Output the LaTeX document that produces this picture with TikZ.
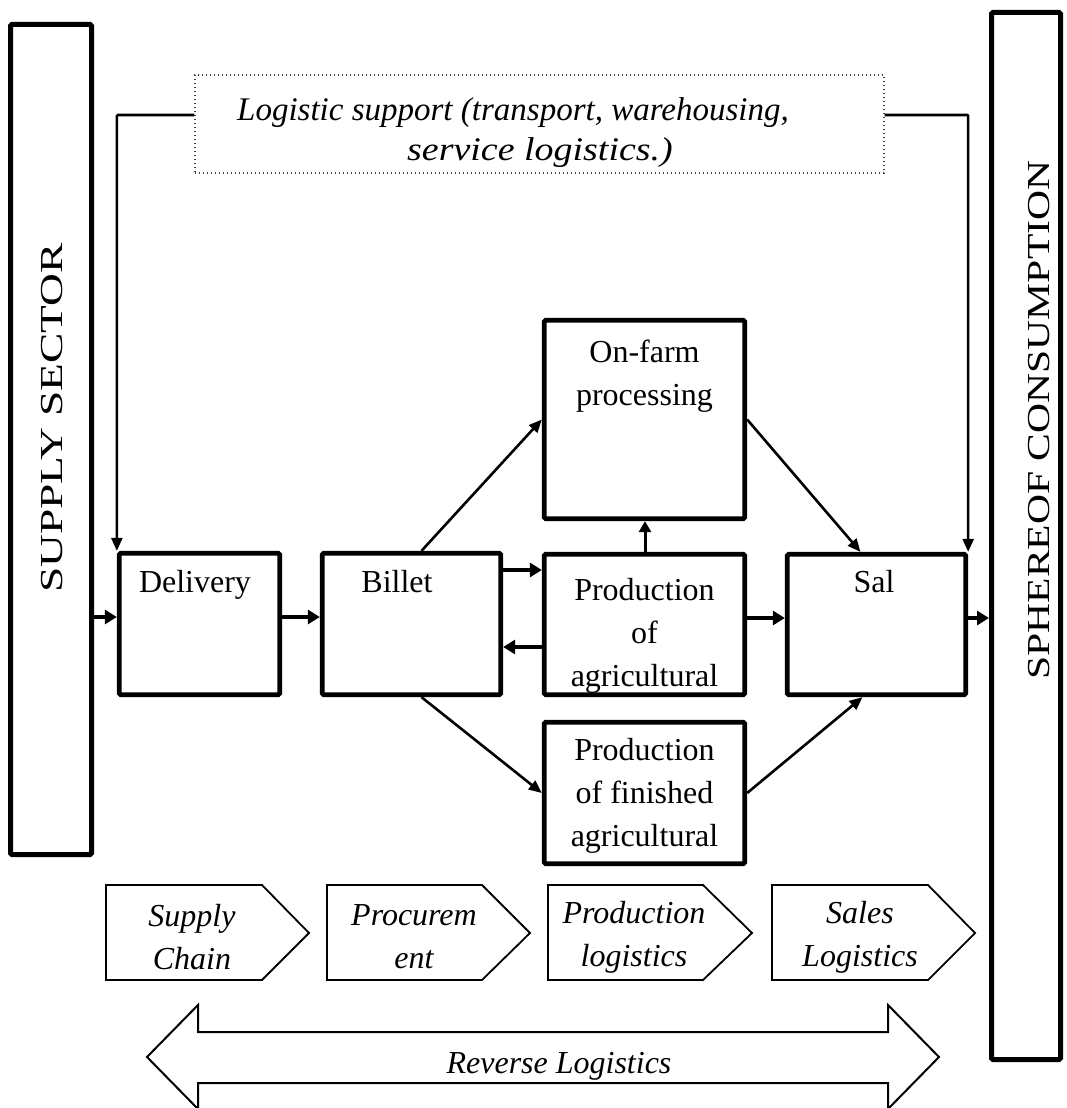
\documentclass[tikz,border=0pt]{standalone}
\usepackage{fontspec}
\setmainfont{Liberation Serif}
\usetikzlibrary{arrows.meta,calc}
\begin{document}
\begin{tikzpicture}[x=1pt,y=-1pt,
  box/.style={draw, line width=4.8pt, rounded corners=1.5pt, inner sep=0pt},
  bar/.style={draw, line width=5pt, rounded corners=1.5pt, inner sep=0pt},
  lbl/.style={font=\fontsize{32}{43}\selectfont, align=center, inner sep=0pt, anchor=north},
  ilbl/.style={font=\fontsize{32}{43}\selectfont\itshape, align=center, inner sep=0pt},
  conn/.style={line width=2.6pt, -{Triangle[length=13pt,width=11pt]}},
  fatarrow/.style={line width=4pt, -{Triangle[length=12pt,width=14pt]}},
  chev/.style={draw, line width=1.8pt, line join=miter},
  vtext/.style={rotate=90, inner sep=0pt, font=\fontsize{32}{43}\selectfont},
]
\useasboundingbox (0,0) rectangle (1066,1108);

% side bars
\node[bar, minimum width=81pt, minimum height=830pt] (leftbar) at (51,439.5) {};
\node[bar, minimum width=69pt, minimum height=1047pt] (rightbar) at (1026,536) {};
\node[vtext] (supT) at (52.5,418) {\scalebox{1.42}[1]{SUPPLY SECTOR}};
\node[vtext] (sphT) at (1039,420) {\scalebox{1.3}[1]{SPHEREOF CONSUMPTION}};

% logistic support box
\node[draw=black!75, dash pattern=on 1.2pt off 2.8pt, line width=1.4pt, minimum width=689pt, minimum height=98pt, inner sep=0pt] (logi) at (539.5,124) {};
\node[ilbl, font=\fontsize{33}{43}\selectfont\itshape, anchor=base] (logi1) at (513,120) {Logistic support (transport, warehousing,};
\node[ilbl, font=\fontsize{33}{43}\selectfont\itshape, anchor=base] (logi2) at (540,160) {\scalebox{1.15}[1]{service logistics.)}};

% process boxes
\node[box, minimum width=160.5pt, minimum height=141.5pt] (deliv) at (199.5,624) {};
\node[box, minimum width=178.5pt, minimum height=141.5pt] (billet) at (411.5,624) {};
\node[box, minimum width=200.5pt, minimum height=140.5pt] (prod) at (644.5,624.5) {};
\node[box, minimum width=200.5pt, minimum height=198.5pt] (onfarm) at (644.5,419.5) {};
\node[box, minimum width=200.5pt, minimum height=141.5pt] (fin) at (644.5,793) {};
\node[box, minimum width=178.5pt, minimum height=140.5pt] (sal) at (876.5,624.5) {};

\node[lbl] (delivT) at (195,570) {Delivery};
\node[lbl] (billetT) at (397,570) {Billet};
\node[lbl] (salT) at (874,570) {Sal};
\node[lbl] (onfarmT) at (644.5,340) {On-farm\\processing};
\node[lbl] (prodT) at (644.5,578) {Production\\of\\agricultural};
\node[lbl] (finT) at (644.5,738) {Production\\of finished\\agricultural};

% helper rows/columns
\coordinate (r1) at (0,617);
\coordinate (r2) at (0,570);
\coordinate (r3) at (0,647);
\coordinate (r4) at (0,618);
\coordinate (c1) at (645,0);

% logistic support connectors
\draw[conn, rounded corners=1pt] ([yshift=9pt]logi.west) -| (deliv.north west);
\draw[conn, rounded corners=1pt] ([yshift=9pt]logi.east) -| (sal.north east);

% short thick arrows
\draw[fatarrow] (r1 -| leftbar.east) -- (r1 -| deliv.west);
\draw[fatarrow] (r1 -| deliv.east) -- (r1 -| billet.west);
\draw[fatarrow] (r2 -| billet.east) -- (r2 -| prod.west);
\draw[fatarrow] (r3 -| prod.west) -- (r3 -| billet.east);
\draw[fatarrow] (r4 -| prod.east) -- (r4 -| sal.west);
\draw[fatarrow] (r4 -| sal.east) -- (r4 -| rightbar.west);
\draw[line width=3pt, -{Triangle[length=11pt,width=12pt]}] (c1 |- prod.north) -- (c1 |- onfarm.south);

% diagonal arrows
\draw[conn] ([xshift=10pt]billet.north) -- (onfarm.west);
\draw[conn] ([xshift=10pt]billet.south) -- (fin.west);
\draw[conn] (onfarm.east) -- ([xshift=-16pt]sal.north);
\draw[conn] (fin.east) -- ([xshift=-14pt]sal.south);

% logistics chevrons
\draw[chev] (106,885) -- (262,885) -- (309,933) -- (262,980) -- (106,980) -- cycle;
\draw[chev] (327,885) -- (482,885) -- (530,933) -- (482,980) -- (327,980) -- cycle;
\draw[chev] (548,885) -- (703,885) -- (752,933) -- (703,980) -- (548,980) -- cycle;
\draw[chev] (772,885) -- (928,885) -- (975,933) -- (928,980) -- (772,980) -- cycle;
\node[ilbl] (chev1) at (192,937) {Supply\\Chain};
\node[ilbl] (chev2) at (414,937) {Procurem\\ent};
\node[ilbl] (chev3) at (634,937) {Production\\logistics};
\node[ilbl] (chev4) at (860,937) {Sales\\Logistics};

% reverse logistics double arrow
\draw[chev, line width=2pt] (147,1057) -- (198,1005) -- (198,1032) -- (888,1032) -- (888,1005) -- (939,1057) -- (888,1109) -- (888,1083) -- (198,1083) -- (198,1109) -- cycle;
\node[ilbl, anchor=base] (revT) at (559,1073) {Reverse Logistics};
\end{tikzpicture}
\end{document}
